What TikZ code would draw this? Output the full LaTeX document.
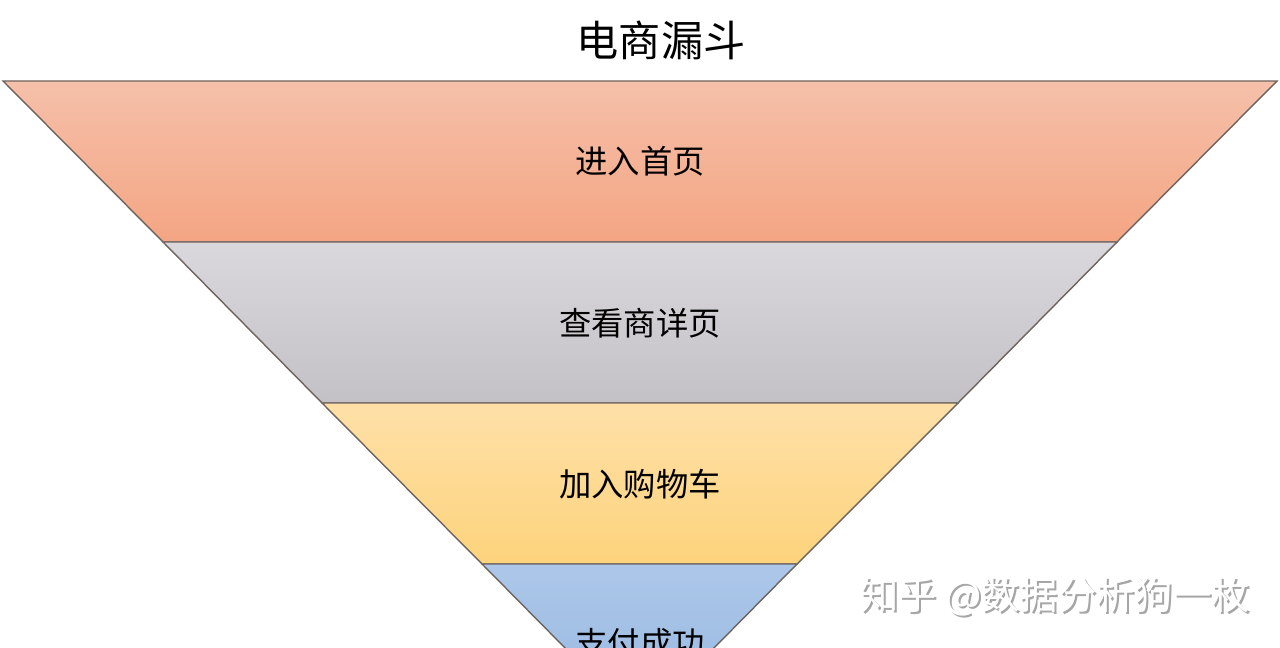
\documentclass[tikz,border=0pt]{standalone}
\usepackage{fontspec}
\setmainfont{Noto Sans CJK SC}
\usepackage{tikz}
\definecolor{salmontop}{RGB}{245, 192, 170}
\definecolor{salmonbot}{RGB}{244, 165, 131}
\definecolor{greytop}{RGB}{218, 216, 220}
\definecolor{greybot}{RGB}{195, 193, 197}
\definecolor{goldtop}{RGB}{254, 224, 168}
\definecolor{goldbot}{RGB}{253, 211, 124}
\definecolor{skytop}{RGB}{172, 199, 233}
\definecolor{skybot}{RGB}{160, 190, 228}
\definecolor{edge}{RGB}{110, 100, 95}
\tikzset{
    layer/.style = {draw = edge, line width = 0.4pt},
    stagelabel/.style = {font = \fontsize{9.2pt}{11pt}\selectfont, text = black},
    wmtext/.style = {font = \fontsize{10.9pt}{12pt}\selectfont}
}

\begin{document}
\begin{tikzpicture}
                        \useasboundingbox (0,0) rectangle (12.8,6.48);
                        \clip (0,0) rectangle (12.8,6.48);

                        \shade[layer, top color = salmontop, bottom color = salmonbot] (0.03,5.67) -- (12.77,5.67) -- (11.17,4.06) -- (1.63,4.06) -- cycle;
                        \shade[layer, top color = greytop, bottom color = greybot] (1.63,4.06) -- (11.17,4.06) -- (9.58,2.45) -- (3.22,2.45) -- cycle;
                        \shade[layer, top color = goldtop, bottom color = goldbot] (3.22,2.45) -- (9.58,2.45) -- (7.97,0.84) -- (4.82,0.84) -- cycle;
                        \shade[layer, top color = skytop, bottom color = skybot] (4.82,0.84) -- (7.97,0.84) -- (7.10,-0.04) -- (5.69,-0.04) -- cycle;

                        \node (title) at (6.61,6.08) {\fontsize{12pt}{14pt}\selectfont 电商漏斗};
                        \node[stagelabel] (home) at (6.40,4.87) {进入首页};
                        \node[stagelabel] (detail) at (6.40,3.25) {查看商详页};
                        \node[stagelabel] (cart) at (6.40,1.64) {加入购物车};
                        \node[stagelabel] (paid) at (6.40,0.05) {支付成功};

                        \node[wmtext, text = gray!70] (shadow) at (10.57,0.49) {知乎\ @数据分析狗一枚};
                        \node[wmtext, text = white] (watermark) at (10.55,0.51) {知乎\ @数据分析狗一枚};
                    \end{tikzpicture}
\end{document}
